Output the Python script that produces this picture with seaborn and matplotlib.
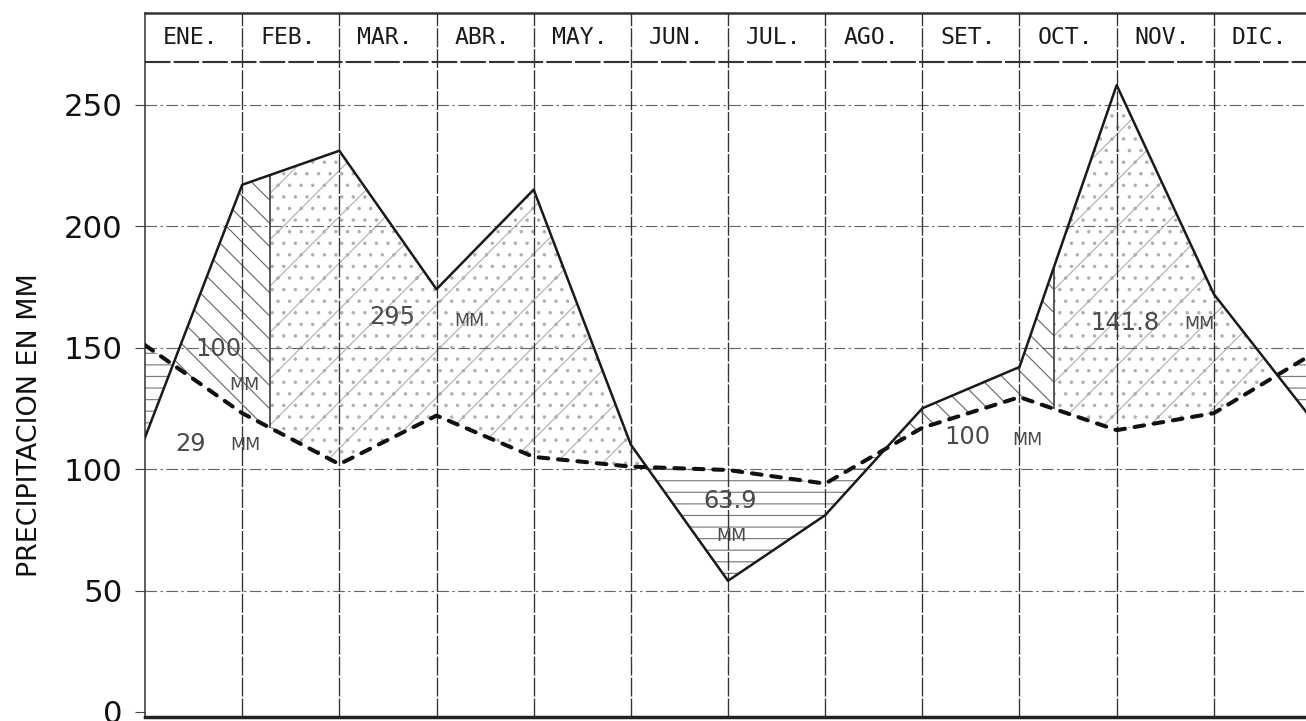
import numpy as np
import matplotlib
matplotlib.use("Agg")
import matplotlib.pyplot as plt
from matplotlib.patches import Rectangle
import seaborn as sns

# --- data -------------------------------------------------------------
months = ["ENE.", "FEB.", "MAR.", "ABR.", "MAY.", "JUN.",
          "JUL.", "AGO.", "SET.", "OCT.", "NOV.", "DIC."]
# values read at the month boundaries (13 vertices)
boundary = np.arange(13)
precip = [113, 217, 231, 174, 215, 110, 54, 81, 125, 142, 258, 172, 121]
evapo = [151, 123, 102, 122, 105, 101, 99.6, 94, 117, 129.6, 116, 123, 147]

# soil-water recharge ends where storage reaches 100 mm
recharge_spans = [(0.0, 1.29), (7.5, 9.35)]
surplus_spans = [(1.29, 7.5), (9.35, 12.0)]

# balance labels: (text, x, y, size)
balance_labels = [
    ("100", 0.76, 149.5, 12.5), ("MM", 1.02, 134.5, 9),
    ("29", 0.47, 110.5, 12.5), ("MM", 1.03, 110.0, 9),
    ("295", 2.54, 162.5, 12.5), ("MM", 3.34, 161.0, 9),
    ("63.9", 6.02, 87.0, 12.5), ("MM", 6.03, 72.5, 9),
    ("141.8", 10.08, 160.0, 12.5), ("MM", 10.85, 159.5, 9),
    ("100", 8.46, 113.0, 12.5), ("MM", 9.08, 112.0, 9),
]
yticks = [0, 50, 100, 150, 200, 250]

# --- style ------------------------------------------------------------
sns.set_style("white")
plt.rcParams["font.family"] = ["DejaVu Sans"]
plt.rcParams["hatch.linewidth"] = 0.6

DPI = 139
fig = plt.figure(figsize=(1306 / DPI, 721 / DPI), dpi=DPI)
ax = fig.add_axes([145 / 1306, 4 / 721, 1166 / 1306, 704 / 721])
ax.set_xlim(0, 12)
ax.set_ylim(-2.06, 287.7)

P = np.asarray(precip, float)
E = np.asarray(evapo, float)


def clip_to(coll, span):
    x0, x1 = span
    rect = Rectangle((x0, -10), x1 - x0, 400, transform=ax.transData)
    coll.set_clip_path(rect)


# deficit (evapotranspiration above rainfall): horizontal hatching
ax.fill_between(boundary, P, E, where=E >= P, interpolate=True,
                facecolor="none", edgecolor="#7a7a7a", hatch="--",
                linewidth=0)

# soil-water recharge: back-slash hatching
for span in recharge_spans:
    c = ax.fill_between(boundary, P, E, where=P >= E, interpolate=True,
                        facecolor="none", edgecolor="#6a6a6a",
                        hatch="\\\\", linewidth=0)
    clip_to(c, span)

# water surplus: sparse diagonals with faint fine dots
for span in surplus_spans:
    c = ax.fill_between(boundary, P, E, where=P >= E, interpolate=True,
                        facecolor="none", edgecolor="#b0b0b0",
                        hatch="/..", linewidth=0)
    clip_to(c, span)

# end-of-recharge marks
for x0, x1 in recharge_spans:
    ax.vlines(x1, np.interp(x1, boundary, E), np.interp(x1, boundary, P),
              color="#444", lw=0.9)

# grid: dash-dot horizontals, near-solid month verticals
for v in yticks[1:]:
    ax.axhline(v, color="#666", lw=0.6, ls=(0, (10, 3, 2, 3)), zorder=1)
for b in boundary[1:-1]:
    ax.axvline(b, color="#333", lw=0.7, ls=(0, (14, 1.5)), zorder=1)

# header band with month names
ax.axhline(267.5, color="#333", lw=1.1, ls=(0, (12, 1.5)))
for i, m in enumerate(months):
    ax.text(i + 0.47, 277.6, m, ha="center", va="center",
            family="DejaVu Sans Mono", fontsize=12, color="#1a1a1a")

# precipitation (solid) and potential evapotranspiration (heavy dashes)
sns.lineplot(x=boundary, y=precip, ax=ax, color="#1a1a1a", lw=1.3,
             zorder=4)
sns.lineplot(x=boundary, y=evapo, ax=ax, color="#111", lw=2.1, zorder=4)
ax.lines[-1].set_dashes((2.4, 2.4))
ax.lines[-1].set_dash_capstyle("round")

for txt, x, y, s in balance_labels:
    ax.text(x, y, txt, ha="center", va="center", fontsize=s,
            color="#4a4a4a", zorder=5)

# axes frame and ticks
ax.set_xticks([])
ax.set_yticks(yticks)
ax.set_yticklabels([str(v) for v in yticks], fontsize=16, color="#111")
ax.tick_params(axis="y", direction="out", length=5, width=0.6,
               pad=6.5, left=True, color="#444")
ax.spines["right"].set_visible(False)
ax.spines["left"].set_color("#333")
ax.spines["left"].set_linewidth(0.8)
ax.spines["top"].set_color("#333")
ax.spines["top"].set_linewidth(1.3)
ax.spines["bottom"].set_color("#222")
ax.spines["bottom"].set_linewidth(1.8)
ax.set_xlabel("")
ax.set_ylabel("")

fig.text(30 / 1306, 1 - 425 / 721, "PRECIPITACION EN MM", rotation=90,
         ha="center", va="center", fontsize=14, color="#111")

fig.savefig("out.png", dpi=DPI)
